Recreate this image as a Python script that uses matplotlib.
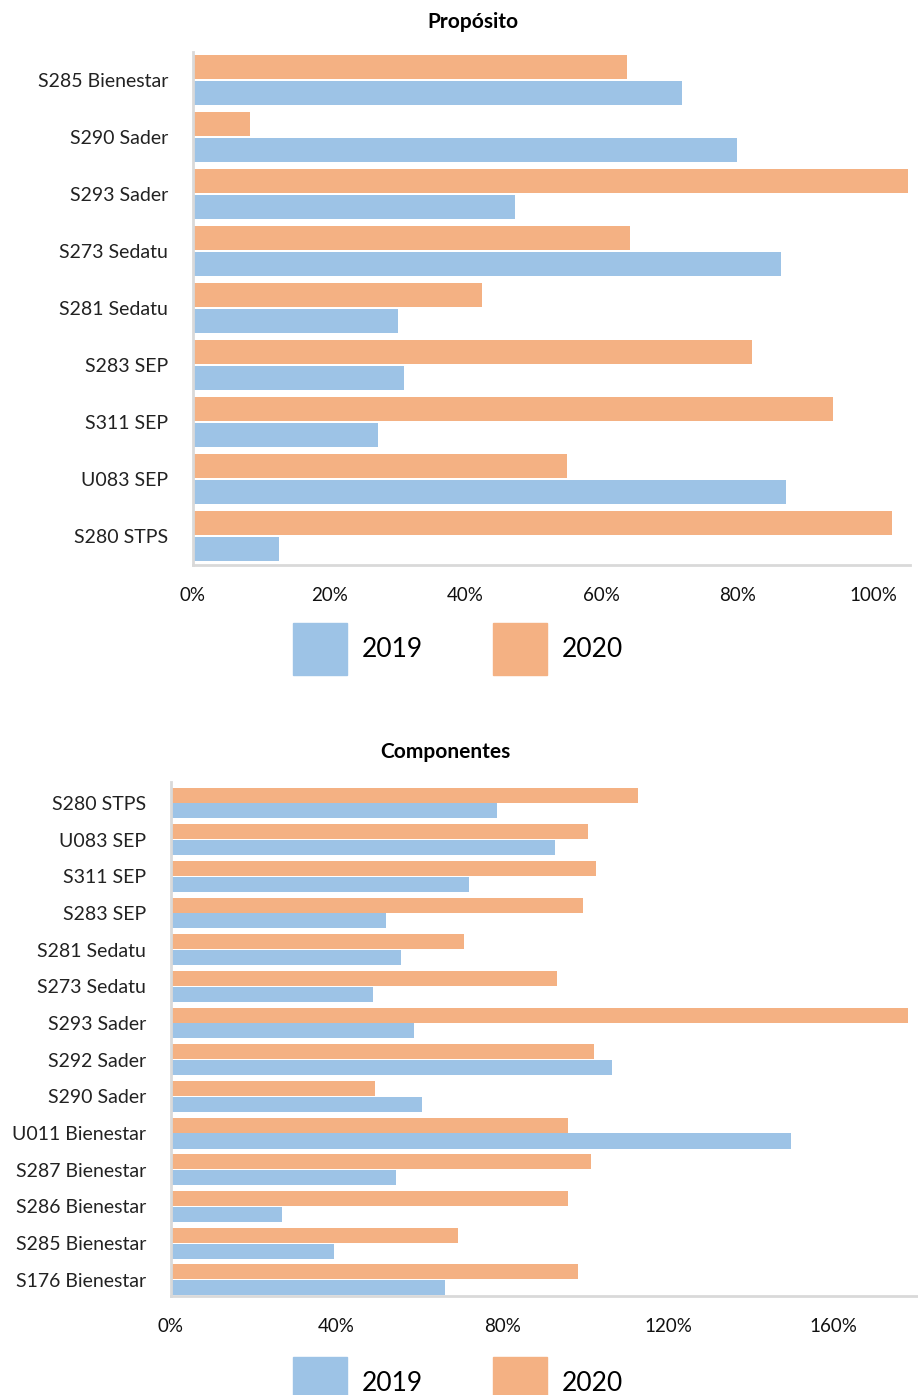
import numpy as np
import matplotlib.pyplot as plt
from matplotlib.patches import Patch

# datos - Propósito
prop_labels = ['S285 Bienestar', 'S290 Sader', 'S293 Sader', 'S273 Sedatu', 'S281 Sedatu',
               'S283 SEP', 'S311 SEP', 'U083 SEP', 'S280 STPS']
prop_2019 = [71.9, 79.9, 47.4, 86.5, 30.1, 31.0, 27.2, 87.2, 12.6]
prop_2020 = [63.8, 8.4, 105.1, 64.3, 42.5, 82.2, 94.1, 55.0, 102.8]
prop_ticks = [0, 20, 40, 60, 80, 100]

# datos - Componentes
comp_labels = ['S280 STPS', 'U083 SEP', 'S311 SEP', 'S283 SEP', 'S281 Sedatu', 'S273 Sedatu',
               'S293 Sader', 'S292 Sader', 'S290 Sader', 'U011 Bienestar', 'S287 Bienestar',
               'S286 Bienestar', 'S285 Bienestar', 'S176 Bienestar']
comp_2019 = [78.7, 92.8, 72.0, 51.9, 55.6, 48.8, 58.7, 106.5, 60.6, 149.8, 54.3, 26.8, 39.4, 66.2]
comp_2020 = [112.8, 100.7, 102.7, 99.5, 70.8, 93.2, 178.0, 102.2, 49.3, 95.9, 101.4, 95.9, 69.3, 98.3]
comp_ticks = [0, 40, 80, 120, 160]

years = ['2019', '2020']
c2019 = '#9DC3E6'
c2020 = '#F4B183'
spine_color = '#D9D9D9'

lab_font = ['Lato', 'DejaVu Sans']


def draw_panel(ax, labels, v19, v20, ticks, xmax, ylim, h, off, title, title_xy):
    y = np.arange(len(labels))
    ax.barh(y - off, v20, height=h, color=c2020)
    ax.barh(y + off, v19, height=h, color=c2019)
    ax.set_xlim(0, xmax)
    ax.set_ylim(*ylim)
    ax.set_yticks(y)
    ax.set_yticklabels(labels, family=lab_font, fontsize=14, color='#222222')
    ax.set_xticks(ticks)
    ax.set_xticklabels(['%d%%' % t for t in ticks], family=lab_font, fontsize=13.5,
                       color='#111111')
    ax.tick_params(axis='both', length=0)
    ax.tick_params(axis='y', pad=18)
    ax.tick_params(axis='x', pad=16)
    for s in ['top', 'right']:
        ax.spines[s].set_visible(False)
    for s in ['left', 'bottom']:
        ax.spines[s].set_color(spine_color)
        ax.spines[s].set_linewidth(2)
    fig.text(title_xy[0], title_xy[1], title, ha='center', va='center',
             family=lab_font, fontsize=15, fontweight='bold')


fig = plt.figure(figsize=(9.18, 13.95), dpi=100)

ax1 = fig.add_axes([193 / 918, 1 - 565 / 1395, 717 / 918, 513 / 1395])
draw_panel(ax1, prop_labels, prop_2019, prop_2020, prop_ticks, 105.4, (8.51, -0.49),
           0.42, 0.225, 'Propósito', (473 / 918, 1 - 22 / 1395))

ax2 = fig.add_axes([171 / 918, 1 - 1296 / 1395, 747 / 918, 514 / 1395])
draw_panel(ax2, comp_labels, comp_2019, comp_2020, comp_ticks, 180.4, (13.44, -0.57),
           0.41, 0.215, 'Componentes', (445 / 918, 1 - 752 / 1395))

handles = [Patch(color=c2019), Patch(color=c2020)]
for yc in [649, 1383]:
    fig.legend(handles, years, loc='center', bbox_to_anchor=(458 / 918, 1 - yc / 1395),
               ncol=2, frameon=False, prop={'family': lab_font, 'size': 19},
               handlelength=2.05, handleheight=2.65, handletextpad=0.57, columnspacing=2.65)

fig.savefig('out.png', dpi=100)
